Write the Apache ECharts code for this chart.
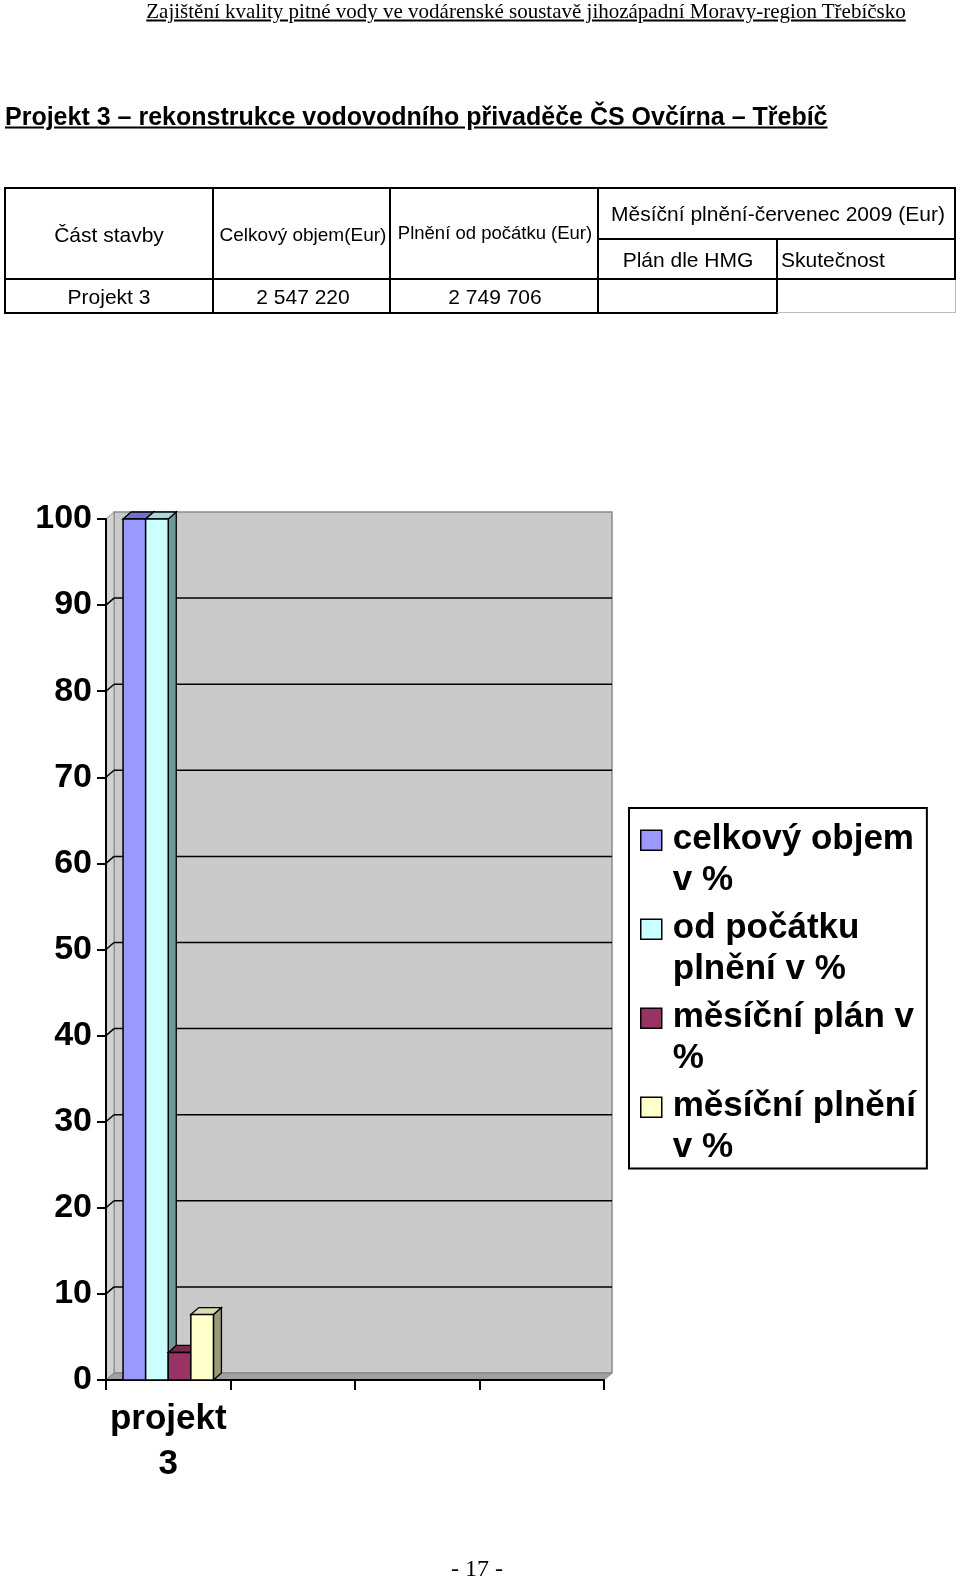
<!DOCTYPE html>
<html><head><meta charset="utf-8">
<script src="https://cdn.jsdelivr.net/npm/echarts@6/dist/echarts.min.js"></script>
<style>
body{margin:0;background:#fff;}
#page{position:relative;width:960px;height:1579px;overflow:hidden;font-family:"Liberation Sans",Arial,sans-serif;color:#000;background:#fff;}
#chart{position:absolute;left:0;top:0;width:960px;height:1579px;}
.t{position:absolute;white-space:nowrap;line-height:1;transform:translate(-50%,-50%);}
.l{position:absolute;white-space:nowrap;line-height:1;transform:translate(0,-50%);}
.ln{position:absolute;background:#000;}
.gl{position:absolute;background:#bbb;}
</style></head>
<body><div id="page">
<div id="chart"></div>
<div class="t" style="left:526px;top:11px;font-family:'Liberation Serif','Times New Roman',serif;font-size:21px;text-decoration:underline;">Zajištění kvality pitné vody ve vodárenské soustavě jihozápadní Moravy-region Třebíčsko</div>
<div class="l" style="left:5px;top:116px;font-size:25px;font-weight:bold;text-decoration:underline;">Projekt 3 – rekonstrukce vodovodního přivaděče ČS Ovčírna – Třebíč</div>

<div class="ln" style="left:4px;top:187px;width:952px;height:2px;"></div>
<div class="ln" style="left:4px;top:187px;width:2px;height:127px;"></div>
<div class="ln" style="left:212px;top:187px;width:2px;height:127px;"></div>
<div class="ln" style="left:389px;top:187px;width:2px;height:127px;"></div>
<div class="ln" style="left:597px;top:187px;width:2px;height:127px;"></div>
<div class="ln" style="left:776px;top:238px;width:2px;height:76px;"></div>
<div class="ln" style="left:954px;top:187px;width:2px;height:93px;"></div>
<div class="ln" style="left:597px;top:238px;width:359px;height:2px;"></div>
<div class="ln" style="left:4px;top:278px;width:952px;height:2px;"></div>
<div class="ln" style="left:4px;top:312px;width:774px;height:2px;"></div>
<div class="gl" style="left:777px;top:312px;width:179px;height:1px;"></div>
<div class="gl" style="left:955px;top:280px;width:1px;height:33px;"></div>

<div class="t" style="left:109px;top:234px;font-size:21px;">Část stavby</div>
<div class="t" style="left:303px;top:234px;font-size:19px;">Celkový objem(Eur)</div>
<div class="t" style="left:495px;top:233px;font-size:18.5px;">Plnění od počátku (Eur)</div>
<div class="t" style="left:778px;top:213px;font-size:21px;">Měsíční plnění-červenec 2009 (Eur)</div>
<div class="t" style="left:688px;top:259px;font-size:21px;">Plán dle HMG</div>
<div class="l" style="left:781px;top:259px;font-size:21px;">Skutečnost</div>
<div class="t" style="left:109px;top:296px;font-size:21px;">Projekt 3</div>
<div class="t" style="left:303px;top:296px;font-size:21px;">2 547 220</div>
<div class="t" style="left:495px;top:296px;font-size:21px;">2 749 706</div>

<div class="t" style="left:477px;top:1568px;font-family:'Liberation Serif','Times New Roman',serif;font-size:24px;">- 17 -</div>
</div>
<script>
// ---- data ----
const categories = ['projekt 3', ' ', '  ', '   '];
const seriesNames = ['celkový objem v %', 'od počátku plnění v %', 'měsíční plán v %', 'měsíční plnění v %'];
const legendLabels = ['celkový objem\nv %', 'od počátku\nplnění v %', 'měsíční plán v\n%', 'měsíční plnění\nv %'];
const celkovyObjem = [100];
const odPocatku = [100];
const mesicniPlan = [3.2];
const mesicniPlneni = [7.6];
const yTicks = [0, 10, 20, 30, 40, 50, 60, 70, 80, 90, 100];

// ---- style ----
const colors = ['#9999FF', '#CCFFFF', '#993366', '#FFFFCC'];
const topColors = ['#7070D0', '#A8D8D8', '#7A2850', '#DCDCB0'];
const sideColors = ['#5C5CA8', '#6E9999', '#5C1F3D', '#9A9A78'];
const DX = 8, DY = 7, GAP = 0.274;

const seriesValues = [celkovyObjem, odPocatku, mesicniPlan, mesicniPlneni];

function barRenderer(idx) {
  return function (params, api) {
    const cat = api.value(0), val = api.value(1);
    const base = api.coord([cat, 0]);
    const top = api.coord([cat, val]);
    const bandW = api.size([1, 0])[0];
    const bw = bandW * (1 - GAP) / 4;
    const x0 = base[0] - 2 * bw + idx * bw;
    const yb = base[1], yt = top[1];
    return {
      type: 'group',
      children: [
        { type: 'polygon', shape: { points: [[x0 + bw, yt], [x0 + bw + DX, yt - DY], [x0 + bw + DX, yb - DY], [x0 + bw, yb]] },
          style: { fill: sideColors[idx], stroke: '#000', lineWidth: 1.3 } },
        { type: 'polygon', shape: { points: [[x0, yt], [x0 + DX, yt - DY], [x0 + bw + DX, yt - DY], [x0 + bw, yt]] },
          style: { fill: topColors[idx], stroke: '#000', lineWidth: 1.3 } },
        { type: 'rect', shape: { x: x0, y: yt, width: bw, height: yb - yt },
          style: { fill: colors[idx], stroke: '#000', lineWidth: 1.5 } }
      ]
    };
  };
}

function wallRenderer(params, api) {
  const cs = params.coordSys;
  const gx = cs.x, gy = cs.y, gw = cs.width, gh = cs.height;
  const children = [
    { type: 'rect', shape: { x: gx + DX, y: gy - DY, width: gw, height: gh }, style: { fill: '#CACACA', stroke: '#8C8C8C', lineWidth: 1.5 } },
    { type: 'polygon', shape: { points: [[gx, gy], [gx + DX, gy - DY], [gx + DX, gy + gh - DY], [gx, gy + gh]] }, style: { fill: '#D2D2D2', stroke: '#8C8C8C', lineWidth: 1 } },
    { type: 'polygon', shape: { points: [[gx, gy + gh], [gx + DX, gy + gh - DY], [gx + gw + DX, gy + gh - DY], [gx + gw, gy + gh]] }, style: { fill: '#A0A0A0', stroke: '#808080', lineWidth: 1 } }
  ];
  yTicks.forEach(function (v) {
    if (v === 0 || v === 100) return;
    const y = api.coord([0, v])[1];
    children.push({ type: 'line', shape: { x1: gx + DX, y1: y - DY, x2: gx + gw + DX, y2: y - DY }, style: { stroke: '#000', lineWidth: 1.5 } });
    children.push({ type: 'line', shape: { x1: gx, y1: y, x2: gx + DX, y2: y - DY }, style: { stroke: '#000', lineWidth: 1.5 } });
  });
  return { type: 'group', children: children };
}

const chart = echarts.init(document.getElementById('chart'), null, { renderer: 'canvas' });
const series = [{
  type: 'custom', name: 'walls', silent: true, z: -1,
  data: [[0, 0]], renderItem: wallRenderer
}];
seriesValues.forEach(function (vals, i) {
  series.push({
    type: 'custom', name: seriesNames[i], z: 2 + i,
    itemStyle: { color: colors[i] },
    encode: { x: 0, y: 1 },
    data: vals.map(function (v, j) { return [j, v]; }),
    renderItem: barRenderer(i)
  });
});

chart.setOption({
  animation: false,
  color: colors,
  textStyle: { fontFamily: '"Liberation Sans", Arial, sans-serif', color: '#000' },
  grid: { left: 106, top: 519, width: 498, height: 861, containLabel: false },
  xAxis: {
    type: 'category', data: categories,
    axisLine: { show: true, lineStyle: { color: '#000', width: 2 } },
    axisTick: { show: true, interval: 0, length: 10, lineStyle: { color: '#000', width: 2 } },
    axisLabel: { interval: 0, color: '#000', fontSize: 35, fontWeight: 'bold', lineHeight: 45, margin: 17,
      formatter: function (v) { return v.trim() ? v.replace(' ', '\n') : ''; } },
    splitLine: { show: false }
  },
  yAxis: {
    type: 'value', min: 0, max: 100, interval: 10,
    axisLine: { show: true, lineStyle: { color: '#000', width: 2 } },
    axisTick: { show: true, length: 9, lineStyle: { color: '#000', width: 2 } },
    axisLabel: { color: '#000', fontSize: 34, fontWeight: 'bold', margin: 14 },
    splitLine: { show: false }
  },
  legend: {
    data: seriesNames,
    orient: 'vertical',
    left: 629, top: 808,
    padding: [10, 11, 0, 11],
    itemGap: 5.5,
    itemWidth: 27, itemHeight: 82,
    icon: 'path://M0,11.5L21,11.5L21,31.5L0,31.5ZM0,0M27,82',
    itemStyle: { borderColor: '#000', borderWidth: 1.5 },
    borderColor: '#000', borderWidth: 2, backgroundColor: '#fff',
    selectedMode: false,
    textStyle: { color: '#000', fontSize: 35, fontWeight: 'bold', lineHeight: 41 },
    formatter: function (name) { return legendLabels[seriesNames.indexOf(name)]; }
  },
  series: series
});
</script>
</body></html>
